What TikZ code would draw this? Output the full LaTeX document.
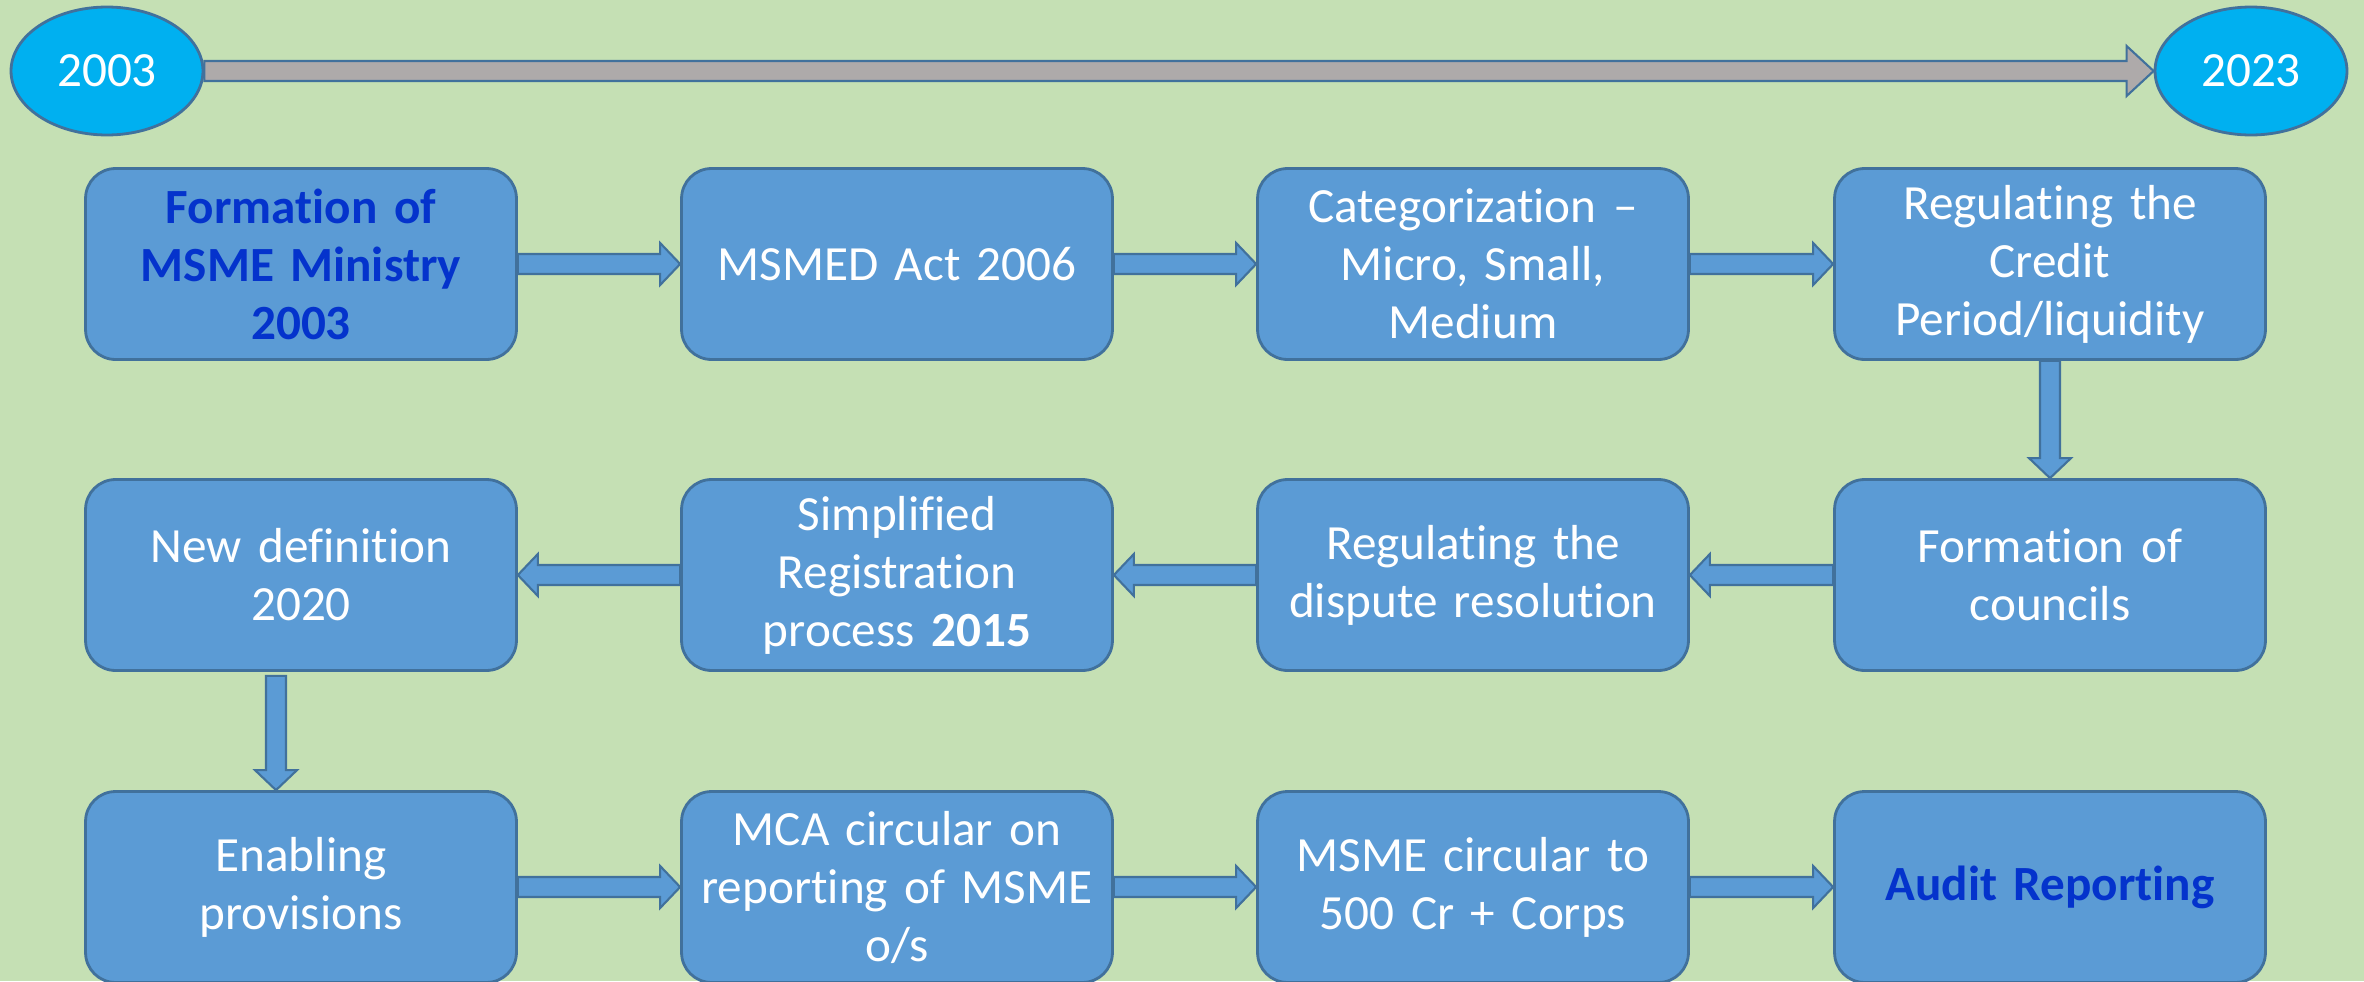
\documentclass[tikz,border=0pt]{standalone}
\usepackage{fontspec}
\setmainfont{Carlito}[Ligatures={TeX,NoCommon}]
\usepackage{tikz}
\usetikzlibrary{calc,shapes.geometric}
\definecolor{bggreen}{HTML}{C5E0B4}
\definecolor{boxblue}{HTML}{5B9BD5}
\definecolor{edgeblue}{HTML}{41719C}
\definecolor{yearblue}{HTML}{00B0F0}
\definecolor{bargrey}{HTML}{AEAAAA}
\definecolor{headblue}{HTML}{0433CC}

\begin{document}
\begin{tikzpicture}[x=0.02cm,y=-0.02cm,font=\fontsize{28}{33}\selectfont,
box/.style={draw=edgeblue,fill=boxblue,line width=1.6pt,rounded corners=0.6cm,minimum width=8.62cm,minimum height=3.82cm,text width=8.4cm,align=center,text=white,inner sep=0pt},
year/.style={ellipse,draw=edgeblue,fill=yearblue,line width=1.6pt,minimum width=3.84cm,minimum height=2.56cm,text=white,inner sep=0pt},
keytext/.style={font=\fontsize{28}{33}\selectfont\bfseries,text=headblue},
blk shaft/.store in=\blkshaft,blk wing/.store in=\blkwing,blk head/.store in=\blkhead,
blk shaft=0.2cm,blk wing=0.42cm,blk head=0.4cm,
blockarrow/.style={draw=edgeblue,fill=boxblue,line width=1.2pt,to path={let \p1=($(\tikztotarget)!\blkhead!(\tikztostart)$),\p2=(\tikztotarget) in ($(\tikztostart)!\blkshaft!90:(\p2)$) -- ($(\p1)!\blkshaft!90:(\p2)$) -- ($(\p1)!\blkwing!90:(\p2)$) -- (\p2) -- ($(\p1)!\blkwing!-90:(\p2)$) -- ($(\p1)!\blkshaft!-90:(\p2)$) -- ($(\tikztostart)!\blkshaft!-90:(\p2)$) -- cycle}}]
\useasboundingbox (0,0) rectangle (2364,981);
\fill[bggreen] (0,0) rectangle (2364,981);
% timeline
\node[year](y2003) at (107,71){2003};
\node[year](y2023) at (2251,71){2023};
\draw[blockarrow,fill=bargrey,blk wing=0.5cm,blk head=0.54cm](y2003.east) to (y2023.west);
% first row
\node[box,keytext](ministry) at (301,264){Formation of\\MSME Ministry\\2003};
\node[box](act) at (897,264){MSMED Act 2006};
\node[box](categ) at (1473,264){Categorization --\\Micro, Small,\\Medium};
\node[box](credit) at (2050,264){Regulating the\\Credit\\Period/liquidity};
% second row, right to left
\node[box](council) at (2050,575){Formation of\\councils};
\node[box](dispute) at (1473,575){Regulating the\\dispute resolution};
\node[box](regn) at (897,575){Simplified\\Registration\\process \textbf{2015}};
\node[box](newdef) at (301,575){New definition\\2020};
% third row
\node[box](enabling) at (301,887){Enabling\\provisions};
\node[box](mca) at (897,887){MCA circular on\\reporting of MSME\\o/s};
\node[box](circular) at (1473,887){MSME circular to\\500 Cr + Corps};
\node[box,keytext](audit) at (2050,887){Audit Reporting};
\coordinate(defout) at ($(newdef.south)+(-25,4)$);
\coordinate(enabin) at (enabling.north -| defout);
\draw[blockarrow](ministry.east) to (act.west);
\draw[blockarrow](act.east) to (categ.west);
\draw[blockarrow](categ.east) to (credit.west);
\draw[blockarrow](credit.south) to (council.north);
\draw[blockarrow](council.west) to (dispute.east);
\draw[blockarrow](dispute.west) to (regn.east);
\draw[blockarrow](regn.west) to (newdef.east);
\draw[blockarrow](defout) to (enabin);
\draw[blockarrow](enabling.east) to (mca.west);
\draw[blockarrow](mca.east) to (circular.west);
\draw[blockarrow](circular.east) to (audit.west);
\end{tikzpicture}
\end{document}
